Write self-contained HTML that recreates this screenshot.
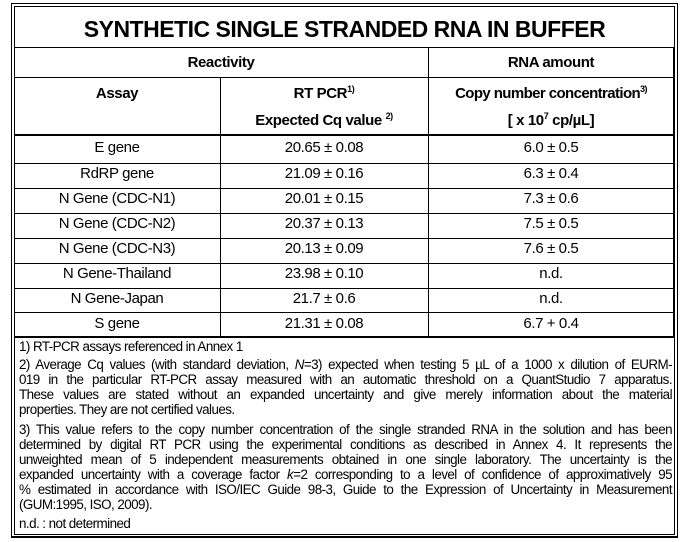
<!DOCTYPE html>
<html><head><meta charset="utf-8"><style>
body{margin:0;width:693px;height:542px;background:#fff;position:relative;font-family:"Liberation Sans",sans-serif;color:#000;overflow:hidden}
.a{position:absolute}
.h{position:absolute;height:1px;background:#000}
.v{position:absolute;width:1px;background:#000}
.c{position:absolute;text-align:center;font-size:15px;letter-spacing:-0.4px;white-space:nowrap}
.b{font-weight:bold}
.f{position:absolute;left:19px;width:653px;font-size:13.4px;letter-spacing:-0.55px;white-space:nowrap;line-height:15px}
.j{text-align:justify;text-align-last:justify;white-space:normal}
sup{font-size:9px;vertical-align:6px;line-height:0}
</style></head><body>
<div class="a" style="left:11px;top:3px;width:667px;height:535px;border:1px solid #000;border-bottom-width:2px;box-sizing:border-box"></div>
<div class="a" style="left:14px;top:6px;width:661px;height:529px;border:1px solid #000;box-sizing:border-box"></div>
<div class="h" style="left:14px;width:661px;top:47px"></div>
<div class="h" style="left:14px;width:661px;top:77px"></div>
<div class="h" style="left:14px;width:661px;top:134px;height:2px"></div>
<div class="h" style="left:14px;width:661px;top:163px"></div>
<div class="h" style="left:14px;width:661px;top:188px"></div>
<div class="h" style="left:14px;width:661px;top:213px"></div>
<div class="h" style="left:14px;width:661px;top:238px"></div>
<div class="h" style="left:14px;width:661px;top:263px"></div>
<div class="h" style="left:14px;width:661px;top:288px"></div>
<div class="h" style="left:14px;width:661px;top:312px"></div>
<div class="h" style="left:14px;width:661px;top:336px;height:2px"></div>
<div class="v" style="left:220px;top:77px;height:260px"></div>
<div class="v" style="left:428px;top:47px;height:290px"></div>
<div class="v" style="left:673px;top:47px;height:290px;width:2px"></div>

<div class="c b" style="left:14px;width:661px;top:16px;font-size:23px;letter-spacing:-0.5px">SYNTHETIC SINGLE STRANDED RNA IN BUFFER</div>
<div class="c b" style="left:14px;width:414px;top:54px">Reactivity</div>
<div class="c b" style="left:428px;width:246px;top:54px">RNA amount</div>
<div class="c b" style="left:14px;width:206px;top:85px">Assay</div>
<div class="c b" style="left:220px;width:208px;top:85px">RT PCR<sup>1)</sup></div>
<div class="c b" style="left:220px;width:208px;top:112px">Expected Cq value <sup>2)</sup></div>
<div class="c b" style="left:428px;width:246px;top:85px;letter-spacing:-0.6px">Copy number concentration<sup>3)</sup></div>
<div class="c b" style="left:428px;width:246px;top:112px">[ x 10<sup>7</sup> cp/µL]</div>

<div class="c" style="left:14px;width:206px;top:139px">E gene</div>
<div class="c" style="left:220px;width:208px;top:139px">20.65 ± 0.08</div>
<div class="c" style="left:428px;width:246px;top:139px">6.0 ± 0.5</div>
<div class="c" style="left:14px;width:206px;top:165px">RdRP gene</div>
<div class="c" style="left:220px;width:208px;top:165px">21.09 ± 0.16</div>
<div class="c" style="left:428px;width:246px;top:165px">6.3 ± 0.4</div>
<div class="c" style="left:14px;width:206px;top:190px">N Gene (CDC-N1)</div>
<div class="c" style="left:220px;width:208px;top:190px">20.01 ± 0.15</div>
<div class="c" style="left:428px;width:246px;top:190px">7.3 ± 0.6</div>
<div class="c" style="left:14px;width:206px;top:215px">N Gene (CDC-N2)</div>
<div class="c" style="left:220px;width:208px;top:215px">20.37 ± 0.13</div>
<div class="c" style="left:428px;width:246px;top:215px">7.5 ± 0.5</div>
<div class="c" style="left:14px;width:206px;top:240px">N Gene (CDC-N3)</div>
<div class="c" style="left:220px;width:208px;top:240px">20.13 ± 0.09</div>
<div class="c" style="left:428px;width:246px;top:240px">7.6 ± 0.5</div>
<div class="c" style="left:14px;width:206px;top:265px">N Gene-Thailand</div>
<div class="c" style="left:220px;width:208px;top:265px">23.98 ± 0.10</div>
<div class="c" style="left:428px;width:246px;top:265px">n.d.</div>
<div class="c" style="left:14px;width:206px;top:290px">N Gene-Japan</div>
<div class="c" style="left:220px;width:208px;top:290px">21.7 ± 0.6</div>
<div class="c" style="left:428px;width:246px;top:290px">n.d.</div>
<div class="c" style="left:14px;width:206px;top:315px">S gene</div>
<div class="c" style="left:220px;width:208px;top:315px">21.31 ± 0.08</div>
<div class="c" style="left:428px;width:246px;top:315px">6.7 + 0.4</div>

<div class="f" style="top:339px">1) RT-PCR assays referenced in Annex 1</div>
<div class="f j" style="top:357px">2) Average Cq values (with standard deviation, <i>N</i>=3) expected when testing 5 µL of a 1000 x dilution of EURM-</div>
<div class="f j" style="top:372px">019 in the particular RT-PCR assay measured with an automatic threshold on a QuantStudio 7 apparatus.</div>
<div class="f j" style="top:387px">These values are stated without an expanded uncertainty and give merely information about the material</div>
<div class="f" style="top:402px">properties. They are not certified values.</div>
<div class="f j" style="top:422px">3) This value refers to the copy number concentration of the single stranded RNA in the solution and has been</div>
<div class="f j" style="top:437px">determined by digital RT PCR using the experimental conditions as described in Annex 4. It represents the</div>
<div class="f j" style="top:452px">unweighted mean of 5 independent measurements obtained in one single laboratory. The uncertainty is the</div>
<div class="f j" style="top:467px">expanded uncertainty with a coverage factor <i>k</i>=2 corresponding to a level of confidence of approximatively 95</div>
<div class="f j" style="top:482px">% estimated in accordance with ISO/IEC Guide 98-3, Guide to the Expression of Uncertainty in Measurement</div>
<div class="f" style="top:497px">(GUM:1995, ISO, 2009).</div>
<div class="f" style="top:516px">n.d. : not determined</div>
</body></html>
